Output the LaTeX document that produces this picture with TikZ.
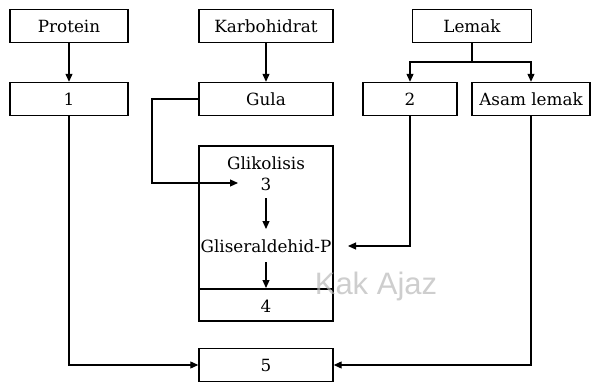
\documentclass[tikz,border=0pt]{standalone}
\usepackage{fontspec}
\setmainfont{DejaVu Serif}
\newfontfamily\wmfont{Liberation Sans}
\usetikzlibrary{arrows.meta}
\begin{document}
\begin{tikzpicture}[x=1pt,y=-1pt,
  box/.style={draw,line width=1.4pt,minimum height=33pt,inner sep=0pt,font=\fontsize{16.8}{18}\selectfont},
  txt/.style={inner sep=1pt,font=\fontsize{16.8}{18}\selectfont},
  conn/.style={line width=1.1pt,-{Triangle[length=8pt,width=7pt]}},
  plain/.style={line width=1.1pt}]
\useasboundingbox (0,0) rectangle (592,383);
\node[box,minimum width=118pt] (protein) at (69,26) {Protein};
\node[box,minimum width=118pt] (b1) at (69,99) {1};
\node[box,minimum width=134pt] (karbo) at (266,26) {Karbohidrat};
\node[box,minimum width=134pt] (gula) at (266,99) {Gula};
\node[box,minimum width=119pt] (lemak) at (472,26) {Lemak};
\node[box,minimum width=94pt] (b2) at (410,99) {2};
\node[box,minimum width=118pt] (al) at (531,99) {Asam lemak};
% glycolysis block
\node[draw,line width=1.4pt,minimum width=134pt,minimum height=175pt,inner sep=0pt] (glbox) at (266,233.5) {};
\coordinate (divL) at (199,289);
\coordinate (divR) at (333,289);
\draw[line width=2pt] (divL) -- (divR);
\node[txt] (glik) at (266,163) {Glikolisis};
\node[txt] (n3) at (266,184) {3};
\node[txt] (glis) at (266,246) {Gliseraldehid-P};
\node[txt] (n4) at (266,306) {4};
\node[box,minimum width=134pt] (b5) at (266,365) {5};
% connectors
\draw[conn] (protein) -- (b1);
\draw[conn] (karbo) -- (gula);
\coordinate (fork) at (472,62);
\draw[plain] (lemak) -- (fork);
\draw[conn] (fork) -| (b2.north);
\draw[conn] (fork) -| (al.north);
\coordinate (gbend) at (152,99);
\coordinate (g3) at (238,183);
\draw[conn] (gula.west) -- (gbend) |- (g3);
\coordinate (n3bot) at (266,198);
\coordinate (glistop) at (266,229);
\draw[conn] (n3bot) -- (glistop);
\coordinate (glisbot) at (266,262);
\coordinate (divM) at (266,288);
\draw[conn] (glisbot) -- (divM);
\coordinate (g2) at (348,246);
\draw[conn] (b2.south) |- (g2);
\draw[conn] (b1.south) |- (b5.west);
\draw[conn] (al.south) |- (b5.east);
% watermark
\node[text=gray!55,opacity=0.7,font=\wmfont\fontsize{31}{32}\selectfont,inner sep=0pt] (wm) at (376,286) {Kak Ajaz};
\end{tikzpicture}
\end{document}
